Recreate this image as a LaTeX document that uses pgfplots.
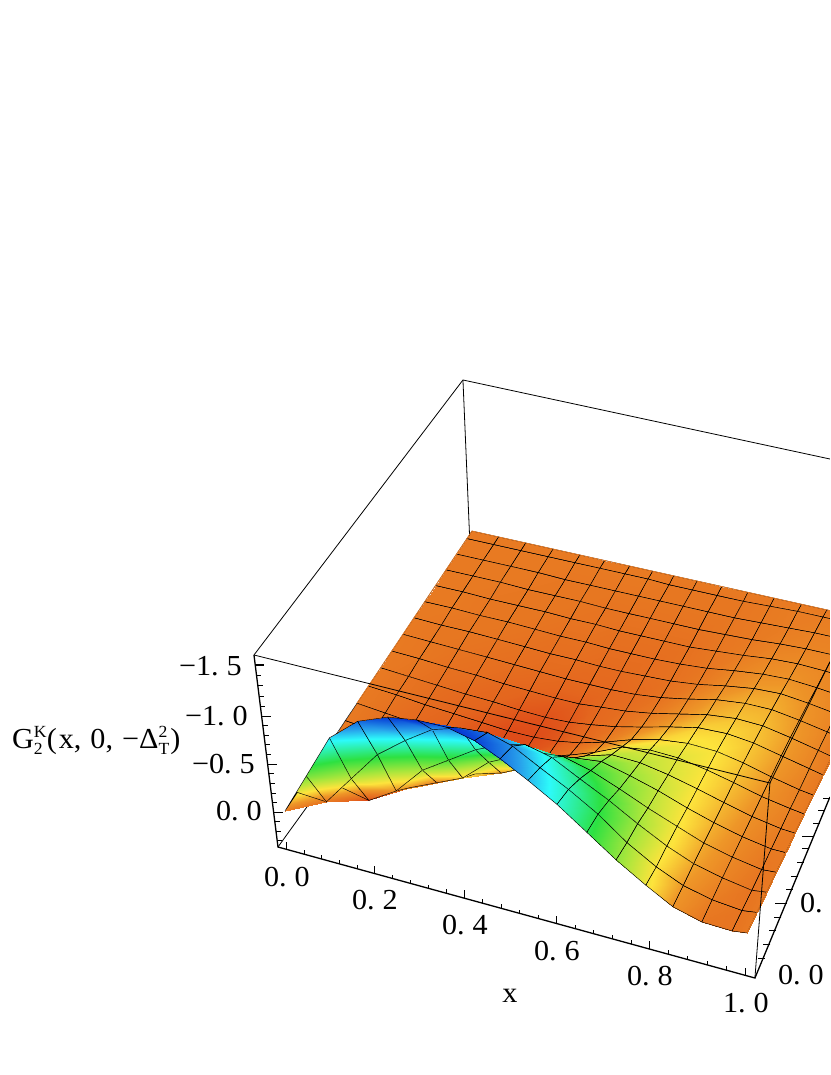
\documentclass[border=0pt]{standalone}
\usepackage{fontspec}
\setmainfont[FakeStretch=1.04]{Liberation Serif}
\usepackage{pgfplots}
\pgfplotsset{compat=1.18}
\definecolor{edgeorange}{RGB}{232,122,34}
\def\PX{((419.7*\thisrow{x}+239.9*\thisrow{y}+285+38*\thisrow{z})/(1-0.0567*\thisrow{x}+0.112*\thisrow{y}+0.068*\thisrow{z}))}
\def\PY{((69.1*\thisrow{x}-220.5*\thisrow{y}+811+143*\thisrow{z})/(1-0.0567*\thisrow{x}+0.112*\thisrow{y}+0.06*\thisrow{z}))}
\begin{document}
\begin{tikzpicture}
\useasboundingbox (0,0) rectangle (830pt,1075pt);
\begin{axis}[at={(0,0)},anchor=south west,scale only axis,width=830pt,height=1075pt,
  xmin=0,xmax=830,ymin=0,ymax=1075,zmin=-1,zmax=1,view={0}{90},y dir=reverse,hide axis,clip=true,
  unbounded coords=jump,
  colormap={hue}{rgb255(0pt)=(0,20,200); rgb255(15pt)=(10,70,215); rgb255(35pt)=(40,160,235); rgb255(50pt)=(45,250,250); rgb255(78pt)=(45,225,65); rgb255(100pt)=(170,230,60); rgb255(115pt)=(253,228,60); rgb255(127pt)=(238,150,40); rgb255(135pt)=(232,122,34); rgb255(142pt)=(228,102,30); rgb255(146pt)=(222,76,25); rgb255(150pt)=(215,50,20)}]
% back box edges
\addplot3[black,line width=0.8pt] coordinates {(463,380,0) (470,545,0)};
\addplot3[black,line width=0.8pt] coordinates {(278,847,0) (330,775,0)};
\addplot3[black,line width=0.8pt] coordinates {(463,380,0) (830,459,0)};
\addplot3[surf,shader=faceted interp,faceted color=black,z buffer=none,mesh/cols=18,line width=0.45pt,
  point meta=\thisrow{z},point meta min=-1.35,point meta max=0.15]
 table[row sep=\\,x expr=\PX,y expr=\PY,z expr=0]{
x y z\\
0 1 0\\ 0.066 1 0\\ 0.133 1 0\\ 0.2 1 0\\ 0.265 1 0\\ 0.325 1 0\\ 0.385 1 0\\ 0.44 1 0\\ 0.49 1 0\\ 0.545 1 0\\ 0.603 1 0\\ 0.664 1 0\\ 0.725 1 0\\ 0.788 1 0\\ 0.846 1 0\\ 0.9075 1 0\\ 0.97 1 0\\ 1 1 0\\
0 0.97 0\\ 0.066 0.97 0\\ 0.133 0.97 0\\ 0.2 0.97 0\\ 0.265 0.97 0\\ 0.325 0.97 0\\ 0.385 0.97 0\\ 0.44 0.97 0\\ 0.49 0.97 0.01\\ 0.545 0.97 0.01\\ 0.603 0.97 0.01\\ 0.664 0.97 0.01\\ 0.725 0.97 0\\ 0.788 0.97 -0.01\\ 0.846 0.97 -0.01\\ 0.9075 0.97 -0.01\\ 0.97 0.97 0\\ 1 0.97 0\\
0 0.909 0\\ 0.066 0.909 0\\ 0.133 0.909 0\\ 0.2 0.909 0\\ 0.265 0.909 0.01\\ 0.325 0.909 0.01\\ 0.385 0.909 0.01\\ 0.44 0.909 0.01\\ 0.49 0.909 0.01\\ 0.545 0.909 0.01\\ 0.603 0.909 0.01\\ 0.664 0.909 0.01\\ 0.725 0.909 0\\ 0.788 0.909 -0.01\\ 0.846 0.909 -0.02\\ 0.9075 0.909 -0.02\\ 0.97 0.909 -0.01\\ 1 0.909 0\\
0 0.848 0\\ 0.066 0.848 0\\ 0.133 0.848 0\\ 0.2 0.848 0.01\\ 0.265 0.848 0.01\\ 0.325 0.848 0.01\\ 0.385 0.848 0.02\\ 0.44 0.848 0.02\\ 0.49 0.848 0.02\\ 0.545 0.848 0.02\\ 0.603 0.848 0.02\\ 0.664 0.848 0.01\\ 0.725 0.848 0\\ 0.788 0.848 -0.02\\ 0.846 0.848 -0.03\\ 0.9075 0.848 -0.03\\ 0.97 0.848 -0.01\\ 1 0.848 0\\
0 0.788 0\\ 0.066 0.788 0\\ 0.133 0.788 0.01\\ 0.2 0.788 0.01\\ 0.265 0.788 0.01\\ 0.325 0.788 0.02\\ 0.385 0.788 0.02\\ 0.44 0.788 0.03\\ 0.49 0.788 0.03\\ 0.545 0.788 0.03\\ 0.603 0.788 0.03\\ 0.664 0.788 0.01\\ 0.725 0.788 -0.01\\ 0.788 0.788 -0.04\\ 0.846 0.788 -0.05\\ 0.9075 0.788 -0.04\\ 0.97 0.788 -0.02\\ 1 0.788 0\\
0 0.727 0\\ 0.066 0.727 0\\ 0.133 0.727 0.01\\ 0.2 0.727 0.01\\ 0.265 0.727 0.02\\ 0.325 0.727 0.03\\ 0.385 0.727 0.03\\ 0.44 0.727 0.04\\ 0.49 0.727 0.04\\ 0.545 0.727 0.04\\ 0.603 0.727 0.03\\ 0.664 0.727 0.01\\ 0.725 0.727 -0.03\\ 0.788 0.727 -0.06\\ 0.846 0.727 -0.07\\ 0.9075 0.727 -0.05\\ 0.97 0.727 -0.02\\ 1 0.727 0\\
0 0.667 0\\ 0.066 0.667 0.01\\ 0.133 0.667 0.01\\ 0.2 0.667 0.02\\ 0.265 0.667 0.03\\ 0.325 0.667 0.04\\ 0.385 0.667 0.04\\ 0.44 0.667 0.05\\ 0.49 0.667 0.05\\ 0.545 0.667 0.04\\ 0.603 0.667 0.03\\ 0.664 0.667 0\\ 0.725 0.667 -0.05\\ 0.788 0.667 -0.09\\ 0.846 0.667 -0.10\\ 0.9075 0.667 -0.07\\ 0.97 0.667 -0.03\\ 1 0.667 0\\
0 0.606 0\\ 0.066 0.606 0.01\\ 0.133 0.606 0.02\\ 0.2 0.606 0.03\\ 0.265 0.606 0.04\\ 0.325 0.606 0.05\\ 0.385 0.606 0.06\\ 0.44 0.606 0.06\\ 0.49 0.606 0.06\\ 0.545 0.606 0.05\\ 0.603 0.606 0.02\\ 0.664 0.606 -0.03\\ 0.725 0.606 -0.09\\ 0.788 0.606 -0.12\\ 0.846 0.606 -0.12\\ 0.9075 0.606 -0.08\\ 0.97 0.606 -0.03\\ 1 0.606 0\\
0 0.545 0\\ 0.066 0.545 0.01\\ 0.133 0.545 0.03\\ 0.2 0.545 0.04\\ 0.265 0.545 0.06\\ 0.325 0.545 0.07\\ 0.385 0.545 0.08\\ 0.44 0.545 0.08\\ 0.49 0.545 0.06\\ 0.545 0.545 0.04\\ 0.603 0.545 0\\ 0.664 0.545 -0.06\\ 0.725 0.545 -0.12\\ 0.788 0.545 -0.15\\ 0.846 0.545 -0.14\\ 0.9075 0.545 -0.09\\ 0.97 0.545 -0.03\\ 1 0.545 0\\
0 0.485 0\\ 0.066 0.485 0.02\\ 0.133 0.485 0.04\\ 0.2 0.485 0.06\\ 0.265 0.485 0.07\\ 0.325 0.485 0.09\\ 0.385 0.485 0.10\\ 0.44 0.485 0.09\\ 0.49 0.485 0.06\\ 0.545 0.485 0.02\\ 0.603 0.485 -0.04\\ 0.664 0.485 -0.11\\ 0.725 0.485 -0.17\\ 0.788 0.485 -0.18\\ 0.846 0.485 -0.15\\ 0.9075 0.485 -0.09\\ 0.97 0.485 -0.03\\ 1 0.485 0\\
0 0.42 0\\ 0.066 0.42 0.02\\ 0.133 0.42 0.05\\ 0.2 0.42 0.07\\ 0.265 0.42 0.09\\ 0.325 0.42 0.11\\ 0.385 0.42 0.11\\ 0.44 0.42 0.09\\ 0.49 0.42 0.05\\ 0.545 0.42 -0.02\\ 0.603 0.42 -0.11\\ 0.664 0.42 -0.18\\ 0.725 0.42 -0.21\\ 0.788 0.42 -0.20\\ 0.846 0.42 -0.15\\ 0.9075 0.42 -0.08\\ 0.97 0.42 -0.02\\ 1 0.42 0\\
0 0.36 0\\ 0.066 0.36 0.03\\ 0.133 0.36 0.06\\ 0.2 0.36 0.08\\ 0.265 0.36 0.10\\ 0.325 0.36 0.11\\ 0.385 0.36 0.10\\ 0.44 0.36 0.06\\ 0.49 0.36 -0.01\\ 0.545 0.36 -0.10\\ 0.603 0.36 -0.22\\ 0.664 0.36 -0.26\\ 0.725 0.36 -0.25\\ 0.788 0.36 -0.20\\ 0.846 0.36 -0.14\\ 0.9075 0.36 -0.07\\ 0.97 0.36 -0.02\\ 1 0.36 0\\
0 0.30 0\\ 0.066 0.30 0.03\\ 0.133 0.30 0.06\\ 0.2 0.30 0.09\\ 0.265 0.30 0.10\\ 0.325 0.30 0.08\\ 0.385 0.30 0.04\\ 0.44 0.30 -0.03\\ 0.49 0.30 -0.14\\ 0.545 0.30 -0.25\\ 0.603 0.30 -0.33\\ 0.664 0.30 -0.32\\ 0.725 0.30 -0.27\\ 0.788 0.30 -0.20\\ 0.846 0.30 -0.13\\ 0.9075 0.30 -0.06\\ 0.97 0.30 -0.01\\ 1 0.30 0\\
0 0.24 0\\ 0.066 0.24 0.04\\ 0.133 0.24 0.08\\ 0.2 0.24 0.10\\ 0.265 0.24 0.06\\ 0.325 0.24 0\\ 0.385 0.24 -0.08\\ 0.44 0.24 -0.20\\ 0.49 0.24 -0.33\\ 0.545 0.24 -0.42\\ 0.603 0.24 -0.45\\ 0.664 0.24 -0.38\\ 0.725 0.24 -0.30\\ 0.788 0.24 -0.20\\ 0.846 0.24 -0.12\\ 0.9075 0.24 -0.05\\ 0.97 0.24 0\\ 1 0.24 0\\
0 0.18 0\\ 0.066 0.18 0.05\\ 0.133 0.18 0.10\\ 0.2 0.18 0.10\\ 0.265 0.18 -0.03\\ 0.325 0.18 -0.15\\ 0.385 0.18 -0.38\\ 0.44 0.18 -0.50\\ 0.49 0.18 -0.60\\ 0.545 0.18 -0.62\\ 0.603 0.18 -0.55\\ 0.664 0.18 -0.44\\ 0.725 0.18 -0.32\\ 0.788 0.18 -0.21\\ 0.846 0.18 -0.11\\ 0.9075 0.18 -0.04\\ 0.97 0.18 0.01\\ 1 0.18 0\\
0 0.12 0\\ 0.066 0.12 0.05\\ 0.133 0.12 0.12\\ 0.2 0.12 -0.06\\ 0.265 0.12 -0.35\\ 0.325 0.12 -0.52\\ 0.385 0.12 -0.69\\ 0.44 0.12 -0.80\\ 0.49 0.12 -0.86\\ 0.545 0.12 -0.80\\ 0.603 0.12 -0.66\\ 0.664 0.12 -0.52\\ 0.725 0.12 -0.36\\ 0.788 0.12 -0.21\\ 0.846 0.12 -0.10\\ 0.9075 0.12 -0.03\\ 0.97 0.12 0.02\\ 1 0.12 0\\
0 0.06 0\\ 0.066 0.06 0.02\\ 0.133 0.06 -0.30\\ 0.2 0.06 -0.62\\ 0.265 0.06 -0.83\\ 0.325 0.06 -1.0\\ 0.385 0.06 -1.08\\ 0.44 0.06 -1.10\\ 0.49 0.06 -1.03\\ 0.545 0.06 -0.89\\ 0.603 0.06 -0.75\\ 0.664 0.06 -0.58\\ 0.725 0.06 -0.37\\ 0.788 0.06 -0.20\\ 0.846 0.06 -0.08\\ 0.9075 0.06 -0.01\\ 0.97 0.06 0.02\\ 1 0.06 0\\
0 0 0\\ 0.066 0 -0.44\\ 0.133 0 -0.89\\ 0.2 0 -1.12\\ 0.265 0 -1.23\\ 0.325 0 -1.27\\ 0.385 0 -1.27\\ 0.44 0 -1.21\\ 0.49 0 -1.10\\ 0.545 0 -0.96\\ 0.603 0 -0.80\\ 0.664 0 -0.60\\ 0.725 0 -0.40\\ 0.788 0 -0.22\\ 0.846 0 -0.07\\ 0.9075 0 0.01\\ 0.97 0 0.02\\ 1 0 0\\
};
% outer rim of the surface, without a black outline as in the reference
\addplot3[edgeorange,line width=0.8pt] table[row sep=\\,x expr=\PX,y expr=\PY,z expr=0]{
x y z\\
0 0.36 0\\ 0 1 0\\ 1 1 0\\ 1 0 0\\
};
% front box edges
\addplot3[black,line width=0.8pt] coordinates {(254,655,0) (463,380,0)};
\addplot3[black,line width=0.8pt] coordinates {(254,655,0) (770,783,0) (830,662,0)};
\addplot3[black,line width=0.8pt] coordinates {(770,783,0) (755,978,0)};
% axes
\addplot3[black,line width=1.3pt] coordinates {(254,655,0) (278,847,0) (755,978,0) (830,797,0)};
% x ticks
\addplot3[black,line width=1pt] coordinates {
(287,849.5,0)(287,841.5,0)(nan,nan,0)(304.6,854.3,0)(304.6,850.3,0)(nan,nan,0)(322,859.1,0)(322,855.1,0)(nan,nan,0)(340,864,0)(340,860,0)(nan,nan,0)(357.5,868.8,0)(357.5,864.8,0)(nan,nan,0)
(375,873.6,0)(375,865.6,0)(nan,nan,0)(393,878.6,0)(393,874.6,0)(nan,nan,0)(411,883.5,0)(411,879.5,0)(nan,nan,0)(429,888.5,0)(429,884.5,0)(nan,nan,0)(447,893.4,0)(447,889.4,0)(nan,nan,0)
(465,898.4,0)(465,890.4,0)(nan,nan,0)(483,903.3,0)(483,899.3,0)(nan,nan,0)(501.5,908.4,0)(501.5,904.4,0)(nan,nan,0)(520,913.5,0)(520,909.5,0)(nan,nan,0)(538.5,918.5,0)(538.5,914.5,0)(nan,nan,0)
(557,923.6,0)(557,915.6,0)(nan,nan,0)(575.5,928.7,0)(575.5,924.7,0)(nan,nan,0)(594,933.8,0)(594,929.8,0)(nan,nan,0)(613,939,0)(613,935,0)(nan,nan,0)(631.5,944.1,0)(631.5,940.1,0)(nan,nan,0)
(650,949.2,0)(650,941.2,0)(nan,nan,0)(669,954.4,0)(669,950.4,0)(nan,nan,0)(688,959.6,0)(688,955.6,0)(nan,nan,0)(707.5,964.9,0)(707.5,960.9,0)(nan,nan,0)(726.5,970.2,0)(726.5,966.2,0)(nan,nan,0)
(746,975.5,0)(746,967.5,0)};
% z ticks
\addplot3[black,line width=1pt] coordinates {
(255.3,665,0)(264.3,665,0)(nan,nan,0)(256.5,675,0)(261.5,675,0)(nan,nan,0)(257.8,685.5,0)(262.8,685.5,0)(nan,nan,0)(259.1,696,0)(264.1,696,0)(nan,nan,0)(260.4,706,0)(265.4,706,0)(nan,nan,0)
(261.6,716,0)(270.6,716,0)(nan,nan,0)(262.8,725.5,0)(267.8,725.5,0)(nan,nan,0)(264,735,0)(269,735,0)(nan,nan,0)(265.2,744.5,0)(270.2,744.5,0)(nan,nan,0)(266.4,754,0)(271.4,754,0)(nan,nan,0)
(267.6,764,0)(276.6,764,0)(nan,nan,0)(268.8,773.5,0)(273.8,773.5,0)(nan,nan,0)(270,783,0)(275,783,0)(nan,nan,0)(271.3,793,0)(276.3,793,0)(nan,nan,0)(272.4,802.5,0)(277.4,802.5,0)(nan,nan,0)
(273.6,812,0)(282.6,812,0)(nan,nan,0)(274.8,821.5,0)(279.8,821.5,0)(nan,nan,0)(276,831,0)(281,831,0)(nan,nan,0)(277.2,840.5,0)(282.2,840.5,0)};
% y ticks
\addplot3[black,line width=1pt] coordinates {
(764.7,958,0)(757.7,958,0)(nan,nan,0)(770.4,944,0)(763.4,944,0)(nan,nan,0)(776.1,930,0)(769.1,930,0)(nan,nan,0)(781.4,917,0)(774.4,917,0)(nan,nan,0)
(787.1,903,0)(775.1,903,0)(nan,nan,0)(792.8,889,0)(785.8,889,0)(nan,nan,0)(798.1,876,0)(791.1,876,0)(nan,nan,0)(803.8,862,0)(796.8,862,0)(nan,nan,0)(809.5,848,0)(802.5,848,0)(nan,nan,0)
(814.4,836,0)(802.4,836,0)(nan,nan,0)(819.7,823,0)(812.7,823,0)(nan,nan,0)(825,810,0)(818,810,0)(nan,nan,0)(829.9,798,0)(822.9,798,0)};
\def\lab#1#2#3#4{\node[anchor=#3,inner sep=0pt,font=\fontsize{29}{29}\selectfont] at (axis cs:#1,#2,0) {#4};}
\lab{242}{666}{east}{−1.\hspace{8pt}5}
\lab{248}{716}{east}{−1.\hspace{8pt}0}
\lab{255}{764}{east}{−0.\hspace{8pt}5}
\lab{262}{811}{east}{0.\hspace{8pt}0}
\lab{287}{877}{center}{0.\hspace{8pt}0}
\lab{375}{900}{center}{0.\hspace{8pt}2}
\lab{465}{925}{center}{0.\hspace{8pt}4}
\lab{557}{951}{center}{0.\hspace{8pt}6}
\lab{650}{976}{center}{0.\hspace{8pt}8}
\lab{746}{1003}{center}{1.\hspace{8pt}0}
\lab{510}{996}{center}{x}
\lab{778}{975}{west}{0.\hspace{8pt}0}
\lab{800}{903}{west}{0.}
\lab{12}{740}{west}{G\rlap{\raisebox{11pt}{\fontsize{17}{17}\selectfont K}}\raisebox{-6pt}{\fontsize{17}{17}\selectfont 2}\hspace{4pt}(\hspace{2pt}x,\hspace{9pt}0,\hspace{9pt}−Δ\rlap{\raisebox{11pt}{\fontsize{17}{17}\selectfont 2}}\raisebox{-6pt}{\fontsize{17}{17}\selectfont T}\hspace{1pt})}
\end{axis}
\end{tikzpicture}
\end{document}
